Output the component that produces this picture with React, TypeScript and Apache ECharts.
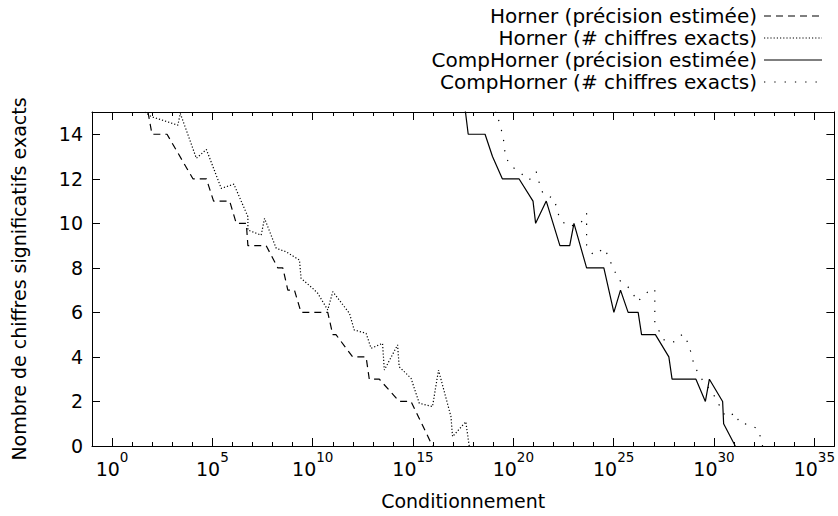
import React, { useEffect, useRef } from "react";
import * as echarts from "echarts";

// log10(condition number) and number of significant digits
const hornerEstLogCond = [1.79, 1.99, 2.74, 4.03, 4.70, 5.06, 5.86, 6.19, 6.69, 6.77, 7.68, 8.26, 8.51, 8.76, 9.09, 9.42, 10.75, 11.0, 11.16, 11.99, 12.66, 12.82, 13.32, 14.31, 14.9, 15.97];
const hornerEstDigits = [15, 14, 14, 12, 12, 11, 11, 10, 10, 9, 9, 8, 8, 7, 7, 6, 6, 5, 5, 4, 4, 3, 3, 2, 2, 0];

const hornerExactLogCond = [1.63, 1.96, 3.28, 3.4, 4.2, 4.7, 5.44, 6.07, 6.77, 6.77, 7.43, 7.6, 8.18, 8.68, 9.34, 9.42, 10.0, 10.25, 10.75, 11.0, 11.83, 12.07, 12.66, 12.91, 13.48, 13.57, 14.23, 14.31, 14.9, 15.31, 15.97, 16.27, 16.89, 16.97, 17.63, 17.8];
const hornerExactDigits = [15.0, 14.79, 14.41, 14.94, 12.92, 13.32, 11.57, 11.76, 10.3, 9.7, 9.47, 10.22, 8.88, 8.72, 8.35, 7.53, 7.08, 6.86, 6.11, 6.93, 5.96, 5.21, 5.06, 4.39, 4.61, 3.41, 4.54, 3.56, 3.04, 1.92, 1.77, 3.41, 1.32, 0.42, 1.09, 0];

const compEstLogCond = [17.6, 17.75, 18.59, 18.96, 19.45, 20.28, 20.98, 21.11, 21.64, 22.32, 22.81, 23.02, 23.65, 24.51, 25.01, 25.34, 25.72, 26.22, 26.39, 27.08, 27.75, 27.91, 29.1, 29.57, 29.77, 30.43, 30.48, 31.06];
const compEstDigits = [15.1, 14, 14, 13, 12, 12, 11, 10, 11, 9, 9, 10, 8, 8, 6, 7, 6, 6, 5, 5, 4, 3, 3, 2, 3, 2, 1, 0];

const compExactLogCond = [19.12, 19.29, 19.45, 19.54, 19.59, 19.82, 20.28, 20.78, 21.14, 21.31, 21.49, 22.03, 22.16, 22.32, 22.74, 23.35, 23.65, 23.65, 23.98, 24.55, 24.76, 25.01, 25.26, 25.59, 25.92, 26.17, 26.42, 26.84, 27.05, 27.05, 27.55, 28.0, 28.44, 28.74, 28.88, 29.02, 29.27, 29.49, 29.9, 30.57, 31.09, 31.26, 31.76, 32.19, 32.36, 32.42];
const compExactDigits = [15.09, 14.56, 14.04, 13.59, 13.07, 12.62, 12.32, 11.94, 12.32, 11.76, 11.3, 11.12, 10.67, 10.18, 9.85, 10.0, 10.45, 9.03, 8.58, 8.88, 8.43, 7.93, 7.45, 7.27, 6.93, 6.48, 6.68, 7.04, 7.04, 5.51, 4.71, 4.68, 5.03, 4.58, 4.09, 3.59, 3.19, 2.86, 2.44, 1.32, 1.47, 1.02, 0.97, 0.76, 0.27, 0];

const seriesNames = [
  "Horner (précision estimée)",
  "Horner (# chiffres exacts)",
  "CompHorner (précision estimée)",
  "CompHorner (# chiffres exacts)",
];

const xMajorExponents = [0, 5, 10, 15, 20, 25, 30, 35];
const xMinorExponents = Array.from({ length: 36 }, (_, i) => i).filter((e) => e % 5 !== 0);
const yTickValues = [0, 2, 4, 6, 8, 10, 12, 14];

const xTitle = "Conditionnement";
const yTitle = "Nombre de chiffres significatifs exacts";

const FONT = '"DejaVu Sans", sans-serif';
const FS = 19;
const LEGEND_FS = 20;

const dashes: any[] = [[7, 5], [1.2, 2], null, [1.3, 9]];

function zip(a: number[], b: number[]) {
  return a.map((v, i) => [v, b[i]]);
}

export default function App() {
  const ref = useRef<HTMLDivElement>(null);
  useEffect(() => {
    if (!ref.current) return;
    const chart = echarts.init(ref.current, null, { renderer: "svg" });
    const black = "#000";
    const baseX = { type: "value", min: -1, max: 36, splitLine: { show: false } };
    const lineStyle = { color: black, width: 1 };

    const legendElems: any[] = [];
    seriesNames.forEach((name, i) => {
      const y = 16 + 22 * i;
      legendElems.push({
        type: "text",
        x: 757,
        y,
        silent: true,
        style: {
          text: name,
          fill: black,
          fontSize: LEGEND_FS,
          fontFamily: FONT,
          align: "right",
          verticalAlign: "middle",
        },
      });
      legendElems.push({
        type: "line",
        silent: true,
        shape: { x1: 764, y1: y, x2: 822, y2: y },
        style: { stroke: black, lineWidth: 1.2, lineDash: dashes[i] || undefined },
      });
    });

    const option: any = {
      animation: false,
      backgroundColor: "#fff",
      textStyle: { fontFamily: FONT },
      grid: { left: 92, right: 2, top: 112, bottom: 70 },
      graphic: legendElems,
      xAxis: [
        {
          ...baseX,
          position: "bottom",
          axisLine: { show: true, onZero: false, lineStyle },
          axisTick: { show: true, inside: true, length: 8, customValues: xMajorExponents, lineStyle },
          axisLabel: {
            show: true,
            customValues: xMajorExponents,
            margin: 4,
            formatter: (v: number) => `{b|10}{s|${v}}`,
            rich: {
              b: { fontSize: FS, fontFamily: FONT, color: black, lineHeight: 28, verticalAlign: "bottom" },
              s: { fontSize: 13.5, fontFamily: FONT, color: black, lineHeight: 14, verticalAlign: "top" },
            },
          },
          name: xTitle,
          nameLocation: "middle",
          nameGap: 45,
          nameTextStyle: { fontFamily: FONT, fontSize: FS, color: black },
        },
        {
          ...baseX,
          position: "bottom",
          axisLine: { show: false, onZero: false },
          axisTick: { show: true, inside: true, length: 4, customValues: xMinorExponents, lineStyle },
          axisLabel: { show: false },
        },
        {
          ...baseX,
          position: "top",
          axisLine: { show: true, onZero: false, lineStyle },
          axisTick: { show: true, inside: true, length: 8, customValues: xMajorExponents, lineStyle },
          axisLabel: { show: false },
        },
        {
          ...baseX,
          position: "top",
          axisLine: { show: false, onZero: false },
          axisTick: { show: true, inside: true, length: 4, customValues: xMinorExponents, lineStyle },
          axisLabel: { show: false },
        },
      ],
      yAxis: [
        {
          type: "value",
          position: "left",
          min: 0,
          max: 15,
          splitLine: { show: false },
          axisLine: { show: true, onZero: false, lineStyle },
          axisTick: { show: true, inside: true, length: 8, customValues: yTickValues, lineStyle },
          axisLabel: { customValues: yTickValues, margin: 9, fontSize: FS, fontFamily: FONT, color: black },
          name: yTitle,
          nameLocation: "middle",
          nameRotate: 90,
          nameGap: 64,
          nameTextStyle: { fontFamily: FONT, fontSize: FS, color: black },
        },
        {
          type: "value",
          position: "right",
          min: 0,
          max: 15,
          splitLine: { show: false },
          axisLine: { show: true, onZero: false, lineStyle },
          axisTick: { show: true, inside: true, length: 8, customValues: yTickValues, lineStyle },
          axisLabel: { show: false },
        },
      ],
      series: [
        zip(hornerEstLogCond, hornerEstDigits),
        zip(hornerExactLogCond, hornerExactDigits),
        zip(compEstLogCond, compEstDigits),
        zip(compExactLogCond, compExactDigits),
      ].map((data, i) => ({
        name: seriesNames[i],
        type: "line",
        xAxisIndex: 0,
        yAxisIndex: 0,
        data,
        symbol: "none",
        showSymbol: false,
        clip: true,
        itemStyle: { color: black },
        lineStyle: { color: black, width: 1.2, type: dashes[i] || "solid" },
      })),
    };
    chart.setOption(option);
    return () => chart.dispose();
  }, []);
  return (
    <div
      ref={ref}
      style={{ position: "fixed", left: 0, top: 0, width: 838, height: 516, background: "#fff" }}
    />
  );
}
